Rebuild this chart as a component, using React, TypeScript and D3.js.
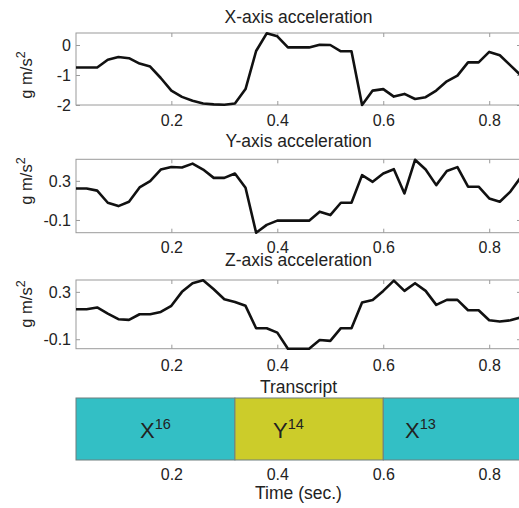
import React, { useEffect, useRef } from 'react';
import * as d3 from 'd3';

// sample times (sec.)
const times = [
  0.02, 0.04, 0.06, 0.08, 0.1, 0.12, 0.14, 0.16, 0.18, 0.2, 0.22, 0.24, 0.26, 0.28, 0.3,
  0.32, 0.34, 0.36, 0.38, 0.4, 0.42, 0.44, 0.46, 0.48, 0.5, 0.52, 0.54, 0.56, 0.58, 0.6,
  0.62, 0.64, 0.66, 0.68, 0.7, 0.72, 0.74, 0.76, 0.78, 0.8, 0.82, 0.84, 0.86,
];

const accX = [
  -0.75, -0.75, -0.75, -0.49, -0.4, -0.44, -0.62, -0.72, -1.1, -1.52, -1.73, -1.86, -1.95, -1.98, -1.99,
  -1.95, -1.47, -0.2, 0.39, 0.29, -0.08, -0.08, -0.08, 0.01, 0.0, -0.21, -0.21, -2.0, -1.52, -1.47,
  -1.72, -1.63, -1.8, -1.74, -1.52, -1.21, -1.02, -0.58, -0.58, -0.23, -0.34, -0.68, -1.02,
];

const accY = [
  0.222, 0.222, 0.2, 0.076, 0.042, 0.086, 0.232, 0.297, 0.415, 0.442, 0.436, 0.476, 0.415, 0.33, 0.33,
  0.375, 0.229, -0.23, -0.15, -0.107, -0.107, -0.107, -0.107, -0.015, -0.05, 0.076, 0.076, 0.358, 0.29, 0.375,
  0.419, 0.171, 0.515, 0.415, 0.256, 0.4, 0.44, 0.24, 0.24, 0.12, 0.086, 0.19, 0.34,
];

const accZ = [
  0.153, 0.153, 0.168, 0.117, 0.069, 0.063, 0.111, 0.111, 0.13, 0.182, 0.3, 0.373, 0.398, 0.322, 0.238,
  0.215, 0.182, -0.007, -0.007, -0.044, -0.18, -0.18, -0.18, -0.106, -0.114, -0.007, -0.007, 0.21, 0.232, 0.308,
  0.395, 0.308, 0.373, 0.308, 0.19, 0.232, 0.232, 0.145, 0.145, 0.06, 0.049, 0.06, 0.085,
];

const xTicks = [0.2, 0.4, 0.6, 0.8];
const yTicksX = [-2, -1, 0];
const yTicksY = [-0.1, 0.3];
const yTicksZ = [-0.1, 0.3];

// transcript segments
const segStarts = [0.02, 0.32, 0.6];
const segEnds = [0.32, 0.6, 0.86];
const segLetters = ['X', 'Y', 'X'];
const segCounts = ['16', '14', '13'];
const segLabelTimes = [0.141, 0.392, 0.641];

const letterColor: Record<string, string> = { X: '#33bfc5', Y: '#cccc2a' };

const FONT = '"Liberation Sans", Arial, sans-serif';
const AXIS_GRAY = '#9a9a9a';

const App: React.FC = () => {
  const svgRef = useRef<SVGSVGElement>(null);

  useEffect(() => {
    if (!svgRef.current) return;
    const svg = d3.select(svgRef.current);
    svg.selectAll('*').remove();

    const x = d3.scaleLinear().domain([0.02, 0.86]).range([76, 521]);

    const panels = [
      { id: 'px', title: 'X-axis acceleration', values: accX, ticks: yTicksX, domain: [-2, 0.4], top: 33, bottom: 105, titleY: 23, tickY: 125.5, labelY: 75 },
      { id: 'py', title: 'Y-axis acceleration', values: accY, ticks: yTicksY, domain: [-0.23, 0.52], top: 159.3, bottom: 232.7, titleY: 146.5, tickY: 253, labelY: 181 },
      { id: 'pz', title: 'Z-axis acceleration', values: accZ, ticks: yTicksZ, domain: [-0.18, 0.4], top: 280, bottom: 348.7, titleY: 266, tickY: 371, labelY: 304 },
    ];

    const [x0, x1] = x.range();

    panels.forEach(p => {
      const y = d3.scaleLinear().domain(p.domain).range([p.bottom, p.top]);
      const g = svg.append('g');

      // box
      g.append('rect')
        .attr('x', x0)
        .attr('y', p.top)
        .attr('width', x1 - x0)
        .attr('height', p.bottom - p.top)
        .attr('fill', 'white')
        .attr('stroke', AXIS_GRAY)
        .attr('stroke-width', 1);

      // inward ticks on all four sides
      const bottomAxis = g.append('g')
        .attr('transform', `translate(0,${p.bottom})`)
        .call(d3.axisBottom(x).tickValues(xTicks).tickSizeInner(-4).tickSizeOuter(0).tickFormat(d => String(d)));
      const topAxis = g.append('g')
        .attr('transform', `translate(0,${p.top})`)
        .call(d3.axisTop(x).tickValues(xTicks).tickSizeInner(-4).tickSizeOuter(0).tickFormat(() => ''));
      const leftAxis = g.append('g')
        .attr('transform', `translate(${x0},0)`)
        .call(d3.axisLeft(y).tickValues(p.ticks).tickSizeInner(-4).tickSizeOuter(0).tickFormat(d => String(d)));
      const rightAxis = g.append('g')
        .attr('transform', `translate(${x1},0)`)
        .call(d3.axisRight(y).tickValues(p.ticks).tickSizeInner(-4).tickSizeOuter(0).tickFormat(() => ''));

      [bottomAxis, topAxis, leftAxis, rightAxis].forEach(a => {
        a.select('.domain').remove();
        a.selectAll('line').attr('stroke', AXIS_GRAY);
      });
      bottomAxis.selectAll('text')
        .attr('y', p.tickY - p.bottom)
        .attr('dy', 0)
        .attr('font-family', FONT)
        .attr('font-size', 16)
        .attr('fill', '#222');
      leftAxis.selectAll('text')
        .attr('x', -5)
        .attr('dy', '0.35em')
        .attr('font-family', FONT)
        .attr('font-size', 16)
        .attr('fill', '#222');

      // signal
      const line = d3.line<number>()
        .x((_, i) => x(times[i]))
        .y(d => y(d));
      g.append('path')
        .datum(p.values)
        .attr('d', line)
        .attr('fill', 'none')
        .attr('stroke', '#111')
        .attr('stroke-width', 2.6)
        .attr('stroke-linejoin', 'round');

      // title
      g.append('text')
        .attr('x', (x0 + x1) / 2)
        .attr('y', p.titleY)
        .attr('text-anchor', 'middle')
        .attr('font-family', FONT)
        .attr('font-size', 17.5)
        .attr('fill', '#222')
        .text(p.title);

      // y label
      const lab = g.append('text')
        .attr('transform', `translate(31.5,${p.labelY}) rotate(-90)`)
        .attr('text-anchor', 'middle')
        .attr('font-family', FONT)
        .attr('font-size', 16.5)
        .attr('fill', '#222');
      lab.append('tspan').text('g m/s');
      lab.append('tspan').attr('dy', -7).attr('font-size', 12.5).text('2');
    });

    // transcript panel
    const tTop = 398;
    const tBottom = 460;
    const tg = svg.append('g');

    tg.selectAll('.seg')
      .data(segStarts)
      .enter()
      .append('rect')
      .attr('x', d => x(d))
      .attr('y', tTop)
      .attr('width', (d, i) => x(segEnds[i]) - x(d))
      .attr('height', tBottom - tTop)
      .attr('fill', (_, i) => letterColor[segLetters[i]])
      .attr('stroke', '#6f7f7f')
      .attr('stroke-width', 1);

    const segText = tg.selectAll('.seglabel')
      .data(segLabelTimes)
      .enter()
      .append('text')
      .attr('x', d => x(d))
      .attr('y', 438)
      .attr('font-family', FONT)
      .attr('font-size', 22)
      .attr('fill', '#222');
    segText.append('tspan').text((_, i) => segLetters[i]);
    segText.append('tspan').attr('dy', -9).attr('font-size', 14.5).text((_, i) => segCounts[i]);

    const tAxis = tg.append('g')
      .attr('transform', `translate(0,${tBottom})`)
      .call(d3.axisBottom(x).tickValues(xTicks).tickSize(0).tickFormat(d => String(d)));
    tAxis.select('.domain').remove();
    tAxis.selectAll('text')
      .attr('y', 20)
      .attr('dy', 0)
      .attr('font-family', FONT)
      .attr('font-size', 16)
      .attr('fill', '#222');

    tg.append('text')
      .attr('x', (x0 + x1) / 2)
      .attr('y', 392.5)
      .attr('text-anchor', 'middle')
      .attr('font-family', FONT)
      .attr('font-size', 17.5)
      .attr('fill', '#222')
      .text('Transcript');

    tg.append('text')
      .attr('x', (x0 + x1) / 2)
      .attr('y', 498.5)
      .attr('text-anchor', 'middle')
      .attr('font-family', FONT)
      .attr('font-size', 17.5)
      .attr('fill', '#222')
      .text('Time (sec.)');
  }, []);

  return (
    <svg
      ref={svgRef}
      width={519}
      height={508}
      style={{ position: 'absolute', left: 0, top: 0, background: 'white' }}
    />
  );
};

export default App;
